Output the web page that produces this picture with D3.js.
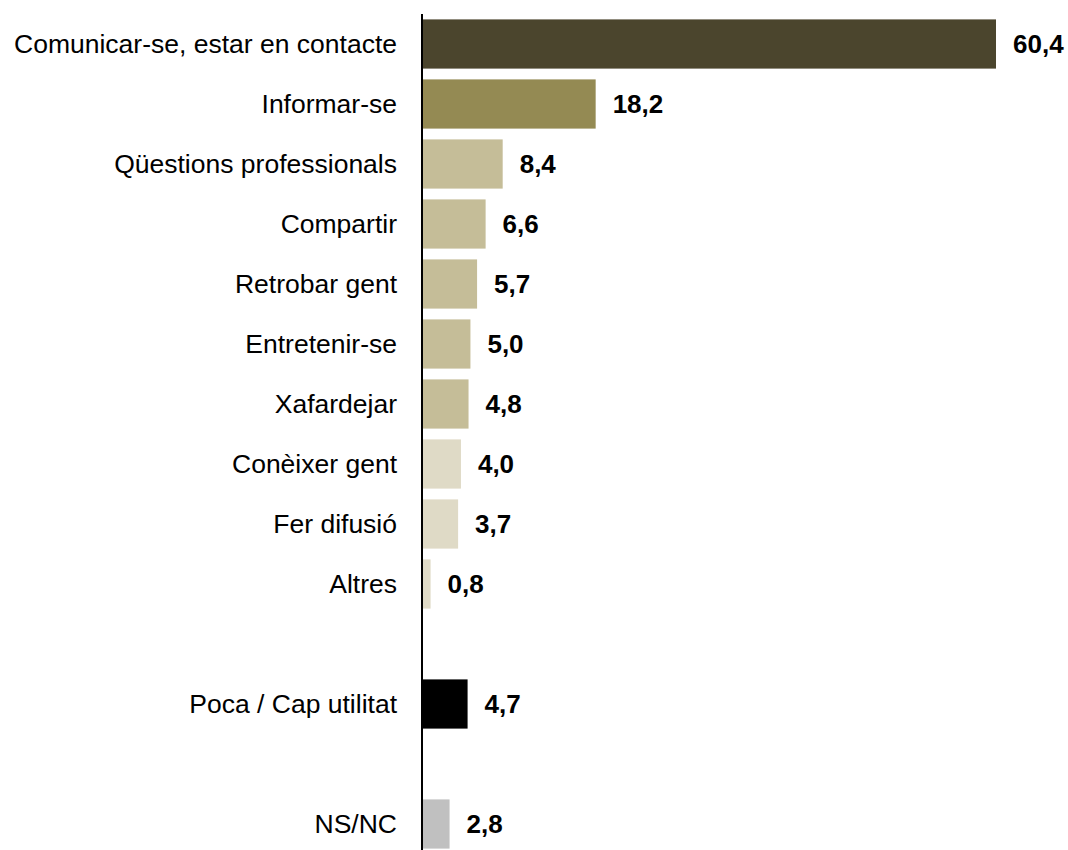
<!DOCTYPE html>
<html>
<head>
<meta charset="utf-8">
<script src="https://cdn.jsdelivr.net/npm/d3@7"></script>
<style>
  body { margin: 0; background: #fff; }
  text { font-family: "Liberation Sans", Arial, sans-serif; }
</style>
</head>
<body>
<div id="viz"></div>
<script>
// Categories (null = empty slot between groups)
const categories = [
    'Comunicar-se, estar en contacte', 'Informar-se', 'Qüestions professionals', 'Compartir',
    'Retrobar gent', 'Entretenir-se', 'Xafardejar', 'Conèixer gent', 'Fer difusió', 'Altres',
    null, 'Poca / Cap utilitat', null, 'NS/NC'
];
const values = [60.4, 18.2, 8.4, 6.6, 5.7, 5.0, 4.8, 4.0, 3.7, 0.8, null, 4.7, null, 2.8];
const colors = ['#4b452d', '#948a53', '#c5bd98', '#c5bd98', '#c5bd98', '#c5bd98', '#c5bd98',
    '#dfdac6', '#dfdac6', '#dfdac6', null, '#000000', null, '#c0c0c0'];

const width = 1068;
const height = 850;

const rows = categories.map((c, i) => ({ key: 'r' + i, label: c, value: values[i], color: colors[i] }));

const svg = d3.select('#viz')
    .append('svg')
    .attr('width', width)
    .attr('height', height);

const x = d3.scaleLinear()
    .domain([0, 60.4])
    .range([423, 996]);

const y = d3.scaleBand()
    .domain(rows.map(d => d.key))
    .range([14, 854])
    .paddingInner(0.18)
    .paddingOuter(0.09);

const filled = rows.filter(d => d.value !== null);

// bars
svg.selectAll('.bar')
    .data(filled)
    .enter()
    .append('rect')
    .attr('class', 'bar')
    .attr('x', x(0))
    .attr('y', d => y(d.key))
    .attr('width', d => x(d.value) - x(0))
    .attr('height', y.bandwidth())
    .attr('fill', d => d.color);

// axis line
svg.append('line')
    .attr('x1', 422).attr('x2', 422)
    .attr('y1', 14).attr('y2', height)
    .attr('stroke', '#000')
    .attr('stroke-width', 2);

// category labels
svg.selectAll('.cat')
    .data(filled)
    .enter()
    .append('text')
    .attr('class', 'cat')
    .attr('x', 397)
    .attr('y', d => y(d.key) + y.bandwidth() / 2)
    .attr('dy', '0.35em')
    .attr('text-anchor', 'end')
    .style('font-size', '26.5px')
    .attr('fill', '#000')
    .text(d => d.label);

// value labels
svg.selectAll('.val')
    .data(filled)
    .enter()
    .append('text')
    .attr('class', 'val')
    .attr('x', d => x(d.value) + 17)
    .attr('y', d => y(d.key) + y.bandwidth() / 2)
    .attr('dy', '0.35em')
    .style('font-size', '26px')
    .style('font-weight', 'bold')
    .attr('fill', '#000')
    .text(d => d3.format('.1f')(d.value).replace('.', ','));
</script>
</body>
</html>
